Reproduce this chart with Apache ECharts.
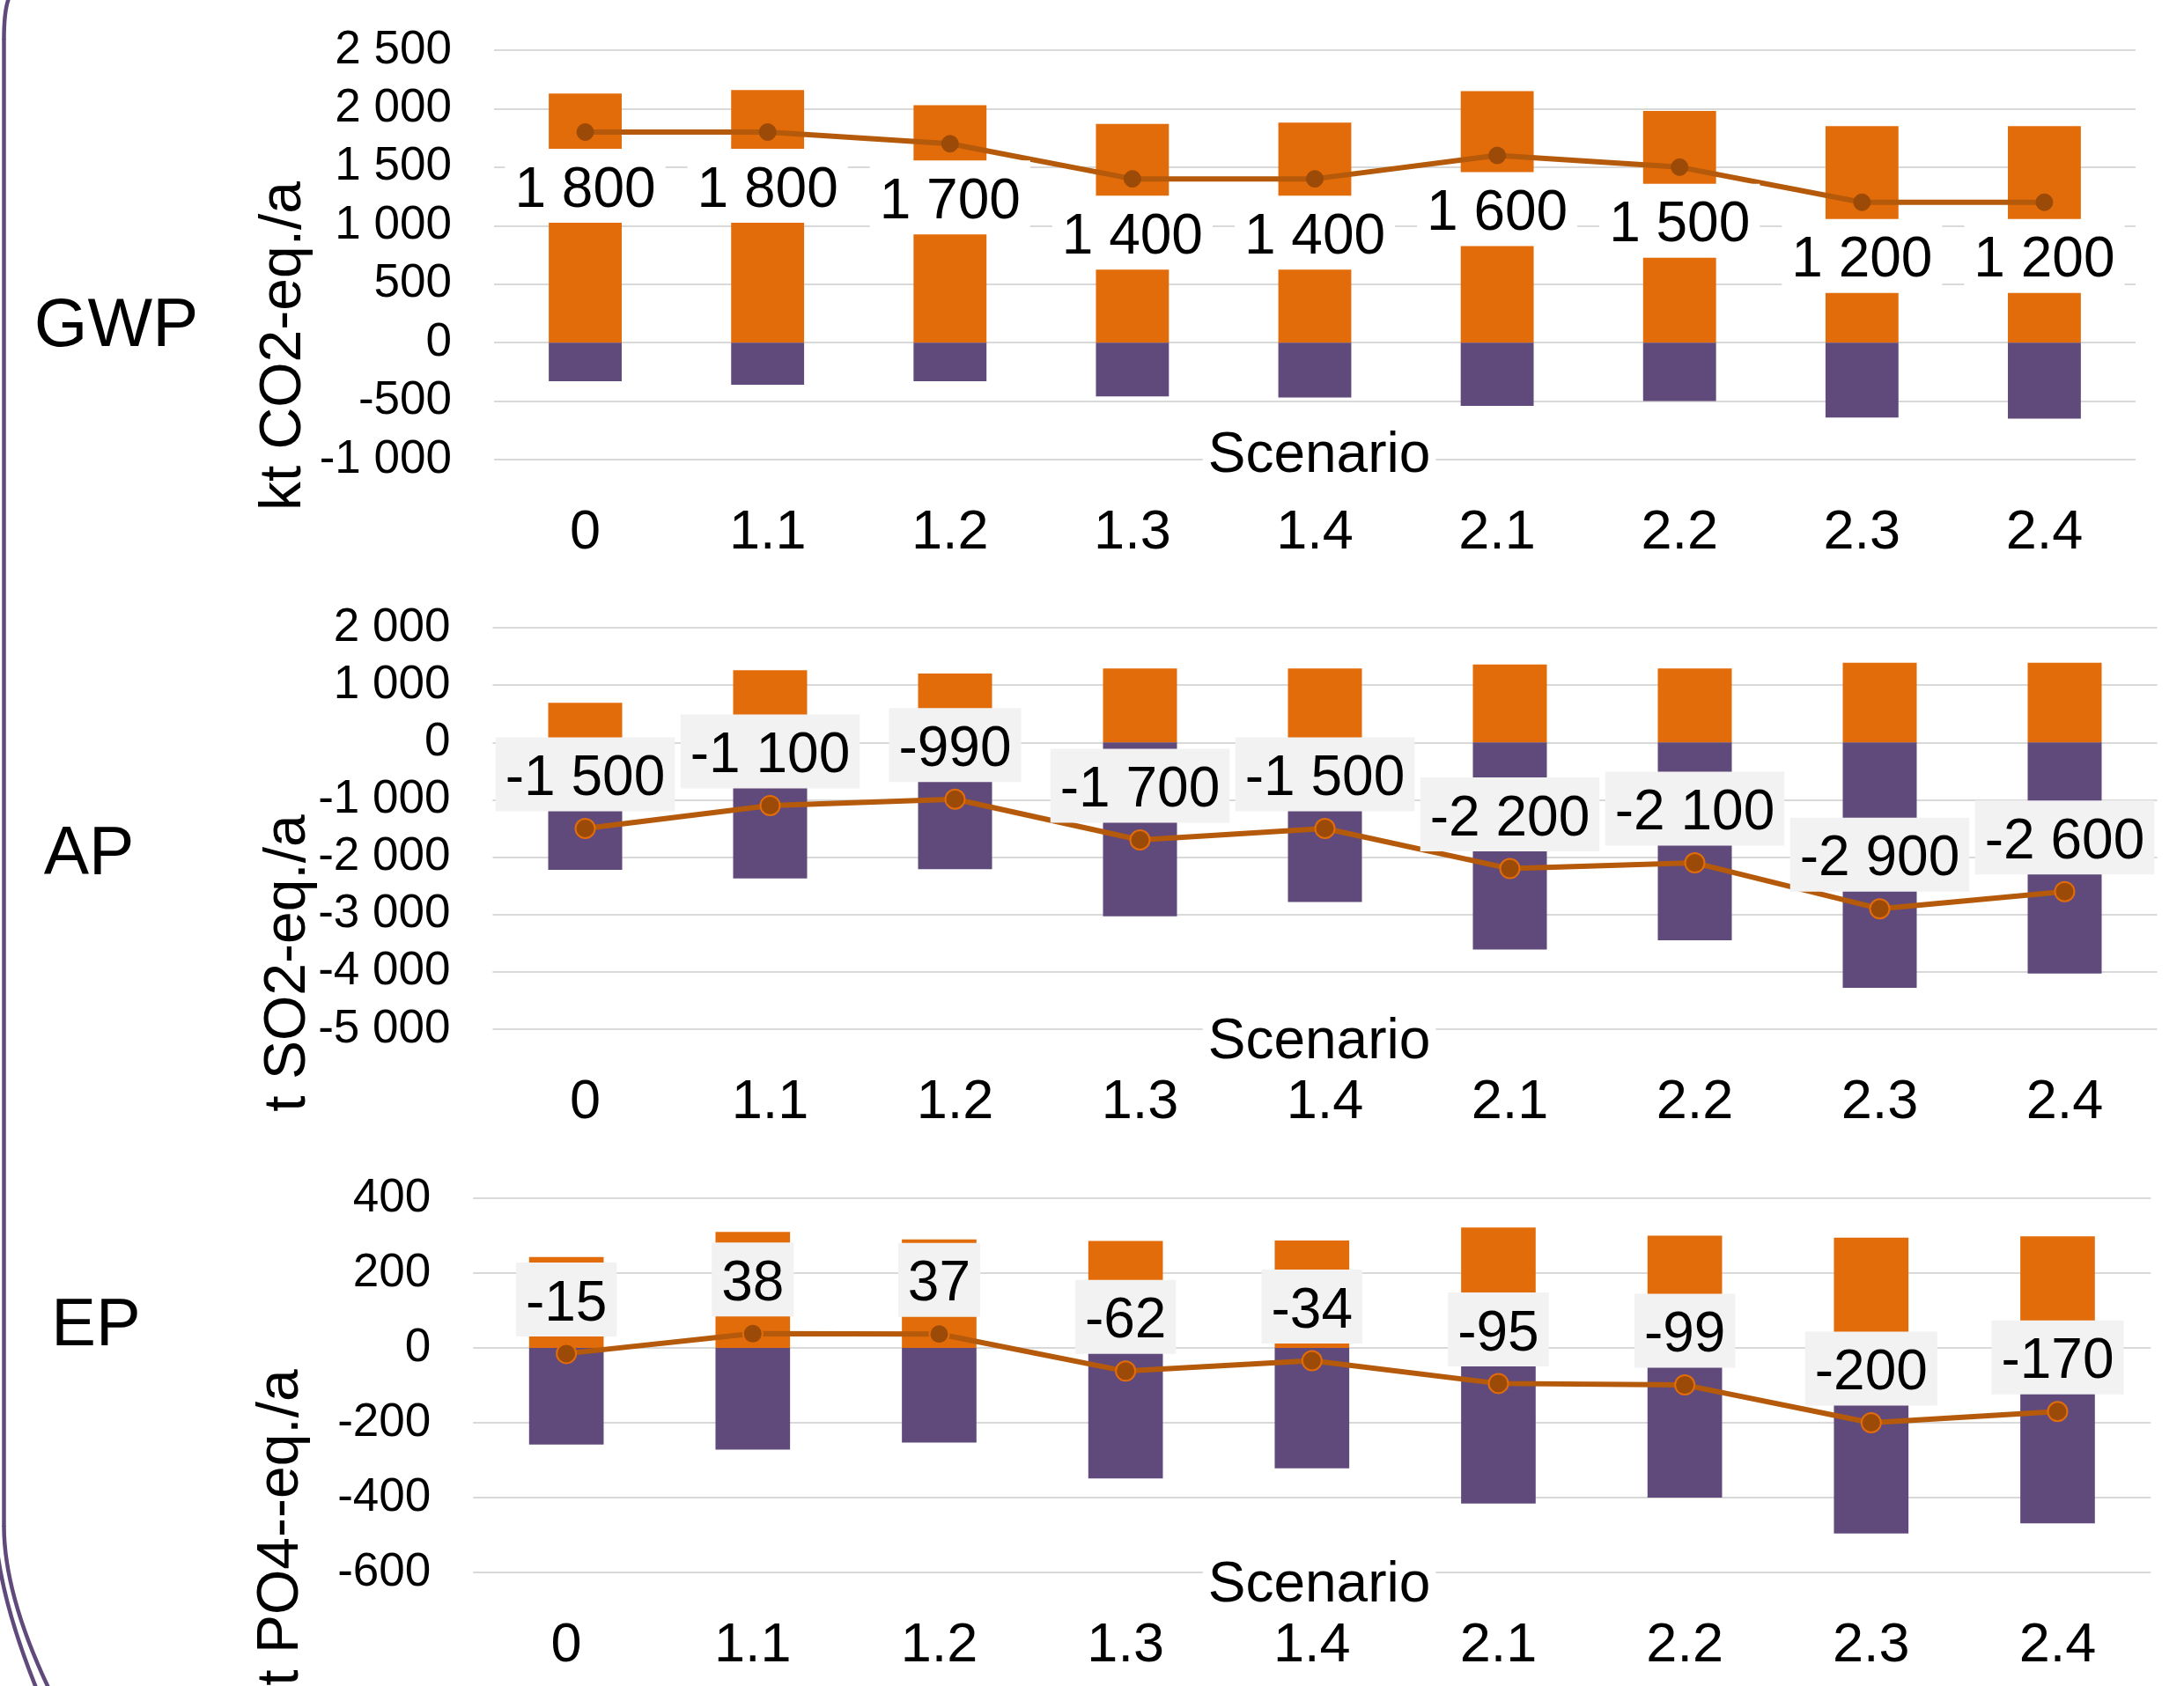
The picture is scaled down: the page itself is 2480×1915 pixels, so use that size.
<!DOCTYPE html>
<html>
<head>
<meta charset="utf-8">
<title>GWP / AP / EP by scenario</title>
<script src="https://cdn.jsdelivr.net/npm/echarts@6/dist/echarts.min.js"></script>
<style>
  html, body { margin: 0; padding: 0; background: #ffffff; }
  #chart { width: 2480px; height: 1915px; }
</style>
</head>
<body>
<div id="chart"></div>
<script>
// Scenario categories shared by all three panels
const categories = ['0', '1.1', '1.2', '1.3', '1.4', '2.1', '2.2', '2.3', '2.4'];

// Global warming potential, kt CO2-eq./a
const gwpEmissions = [2130, 2160, 2030, 1870, 1880, 2150, 1980, 1850, 1850];
const gwpCredits   = [-330, -360, -330, -460, -470, -540, -500, -640, -650];
const gwpNet       = [1800, 1800, 1700, 1400, 1400, 1600, 1500, 1200, 1200];
const gwpTicks     = { min: -1000, max: 2500, interval: 500 };

// Acidification potential, t SO2-eq./a
const apEmissions = [690, 1260, 1200, 1290, 1290, 1360, 1290, 1390, 1390];
const apCredits   = [-2220, -2370, -2210, -3030, -2780, -3610, -3450, -4280, -4030];
const apNet       = [-1500, -1100, -990, -1700, -1500, -2200, -2100, -2900, -2600];
const apTicks     = { min: -5000, max: 2000, interval: 1000 };

// Eutrophication potential, t PO4--eq./a
const epEmissions = [243, 310, 290, 286, 287, 322, 300, 295, 298];
const epCredits   = [-258, -272, -253, -349, -322, -416, -400, -496, -469];
const epNet       = [-15, 38, 37, -62, -34, -95, -99, -200, -170];
const epTicks     = { min: -600, max: 400, interval: 200 };

const FONT = '"Liberation Sans", Arial, Helvetica, sans-serif';
const ORANGE = '#E36C0A';
const PURPLE = '#604A7B';
const LINE = '#B5590A';
const MARKER = '#9B4A07';
const GRIDLINE = '#D9D9D9';

// Numbers with a space as thousands separator: 2 500, -1 000
function fmt(v) {
  const s = Math.abs(Math.round(v)).toString().replace(/\B(?=(\d{3})+(?!\d))/g, ' ');
  return (v < 0 ? '-' : '') + s;
}

const grids = [
  { left: 561,   top: 57,   width: 1864, height: 465 },
  { left: 559.5, top: 713,  width: 1890, height: 456 },
  { left: 537.3, top: 1361, width: 1905, height: 425 }
];

const ticks = [gwpTicks, apTicks, epTicks];

const xAxes = grids.map((g, i) => ({
  type: 'category',
  gridIndex: i,
  data: categories,
  axisLine: { show: false },
  axisTick: { show: false },
  axisLabel: { color: '#000', fontFamily: FONT, fontSize: 63, margin: 52, lineHeight: 63 }
}));

const yAxes = ticks.map((t, i) => ({
  type: 'value',
  gridIndex: i,
  min: t.min,
  max: t.max,
  interval: t.interval,
  axisLine: { show: false },
  axisTick: { show: false },
  splitLine: { lineStyle: { color: GRIDLINE, width: 2 } },
  axisLabel: { color: '#000', fontFamily: FONT, fontSize: 53, margin: 48, padding: [8, 0, 0, 0], formatter: fmt }
}));

function panelSeries(i, emissions, credits, net, opts) {
  return [
    {
      type: 'bar', xAxisIndex: i, yAxisIndex: i, stack: 'p' + i,
      data: emissions, barWidth: '40%', z: 2,
      itemStyle: { color: ORANGE }
    },
    {
      type: 'bar', xAxisIndex: i, yAxisIndex: i, stack: 'p' + i,
      data: credits, barWidth: '40%', z: 2,
      itemStyle: { color: PURPLE }
    },
    {
      type: 'line', xAxisIndex: i, yAxisIndex: i, data: net, z: 5,
      symbol: 'circle', symbolSize: opts.symbolSize,
      lineStyle: { color: LINE, width: 6 },
      itemStyle: { color: MARKER, borderColor: opts.markerBorder, borderWidth: opts.markerBorderWidth },
      label: {
        show: true,
        position: opts.position,
        distance: opts.distance,
        formatter: p => fmt(p.value),
        color: '#000',
        fontFamily: FONT,
        fontSize: 64,
        lineHeight: 64,
        backgroundColor: opts.labelBg,
        padding: [16, 11, 4, 11]
      }
    }
  ];
}

const series = [].concat(
  panelSeries(0, gwpEmissions, gwpCredits, gwpNet,
    { position: 'bottom', distance: 9, labelBg: '#FFFFFF', symbolSize: 19, markerBorder: MARKER, markerBorderWidth: 1 }),
  panelSeries(1, apEmissions, apCredits, apNet,
    { position: 'top', distance: 7.5, labelBg: '#F2F2F2', symbolSize: 22, markerBorder: ORANGE, markerBorderWidth: 2 }),
  panelSeries(2, epEmissions, epCredits, epNet,
    { position: 'top', distance: 7.5, labelBg: '#F2F2F2', symbolSize: 22, markerBorder: ORANGE, markerBorderWidth: 2 })
);

function label(text, x, y, size, extra) {
  return {
    type: 'text', x: x, y: y, z: 100,
    style: Object.assign({
      text: text, fill: '#000', font: size + 'px ' + FONT,
      textAlign: 'center', textVerticalAlign: 'middle'
    }, extra || {})
  };
}

function axisTitle(text, x, y) {
  const el = label(text, x, y, 66);
  el.rotation = Math.PI / 2;
  return el;
}

function scenario(y) {
  return label('Scenario', 1498, y, 64, { backgroundColor: '#FFFFFF', padding: [4, 6] });
}

const borderStyle = { stroke: PURPLE, lineWidth: 4.5, fill: null };

const graphic = [
  // panel names
  label('GWP', 132, 371, 78),
  label('AP', 101, 972, 77),
  label('EP', 109, 1507, 76),
  // vertical axis titles
  axisTitle('kt CO2-eq./a', 323, 393),
  axisTitle('t SO2-eq./a', 328, 1094),
  axisTitle('t PO4--eq./a', 320, 1735),
  // horizontal axis titles
  scenario(518),
  scenario(1184),
  scenario(1801),
  // rounded frame on the left edge
  { type: 'bezierCurve', z: 100, shape: { x1: 10, y1: -2, cpx1: 4.5, cpy1: 12, x2: 4.5, y2: 45 }, style: borderStyle },
  { type: 'line', z: 100, shape: { x1: 4.5, y1: 44, x2: 4.5, y2: 1734 }, style: borderStyle },
  { type: 'bezierCurve', z: 100, shape: { x1: 4.5, y1: 1733, cpx1: 4.5, cpy1: 1810, x2: 55, y2: 1917 }, style: borderStyle },
  { type: 'bezierCurve', z: 100, shape: { x1: -6, y1: 1720, cpx1: -6, cpy1: 1800, x2: 41, y2: 1917 }, style: borderStyle }
];

const chart = echarts.init(document.getElementById('chart'), null, { renderer: 'canvas' });
chart.setOption({
  backgroundColor: '#FFFFFF',
  animation: false,
  grid: grids,
  xAxis: xAxes,
  yAxis: yAxes,
  series: series,
  graphic: graphic
});
</script>
</body>
</html>
